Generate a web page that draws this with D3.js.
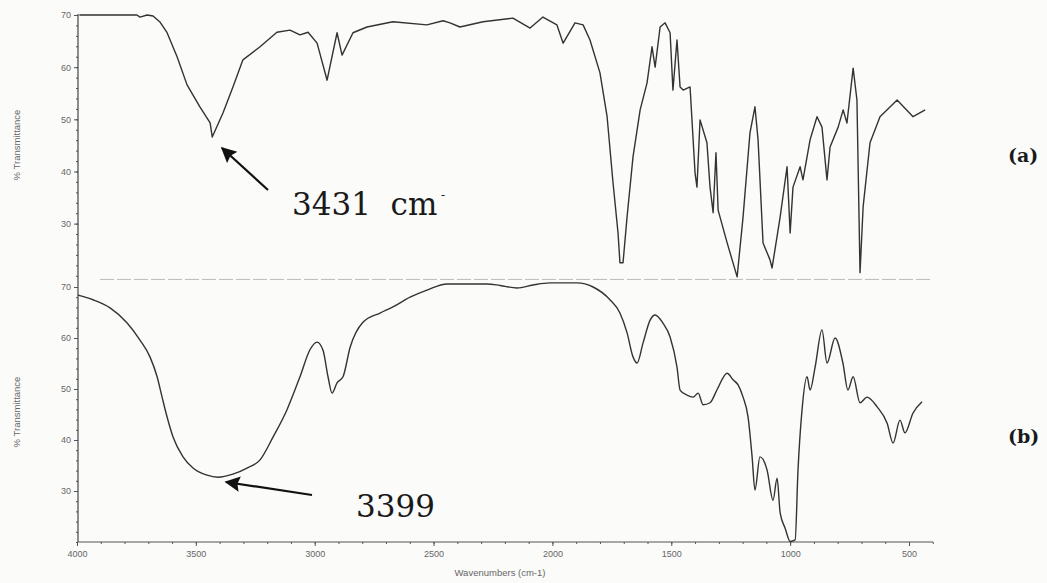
<!DOCTYPE html>
<html>
<head>
<meta charset="utf-8">
<script src="https://cdn.jsdelivr.net/npm/d3@7"></script>
<style>
  html, body { margin: 0; padding: 0; background: #fbfbfa; }
  svg { display: block; }
</style>
</head>
<body>
<svg id="chart" width="1047" height="583"></svg>
<script>
// ---- data ----
const xTicks = [4000, 3500, 3000, 2500, 2000, 1500, 1000, 500];
const yTicksA = [70, 60, 50, 40, 30];
const yTicksB = [70, 60, 50, 40, 30];

// spectrum (a): wavenumber (cm-1) and %T
const wnA = [3990, 3748, 3735, 3705, 3680, 3650, 3621, 3579, 3537, 3483, 3440, 3431, 3386, 3344, 3302, 3230, 3159, 3104, 3062, 3028, 2990, 2948, 2906, 2885, 2839, 2780, 2671, 2528, 2460, 2431, 2389, 2292, 2166, 2094, 2040, 1981, 1955, 1905, 1871, 1842, 1800, 1770, 1745, 1724, 1716, 1703, 1686, 1661, 1631, 1602, 1581, 1568, 1547, 1526, 1505, 1493, 1476, 1463, 1450, 1421, 1400, 1392, 1379, 1350, 1337, 1324, 1312, 1303, 1265, 1223, 1198, 1169, 1148, 1135, 1114, 1085, 1076, 1042, 1013, 1000, 988, 958, 946, 916, 887, 866, 845, 832, 798, 777, 761, 735, 719, 706, 693, 664, 622, 550, 483, 432];
const tA  = [70.0, 70.0, 69.6, 70.0, 69.8, 68.6, 66.6, 62.0, 56.6, 52.4, 49.3, 46.6, 51.2, 56.2, 61.4, 63.9, 66.7, 67.1, 66.2, 66.7, 64.6, 57.5, 66.6, 62.3, 66.6, 67.7, 68.7, 68.1, 68.9, 68.5, 67.7, 68.7, 69.4, 67.5, 69.6, 68.1, 64.6, 68.5, 68.1, 65.2, 58.9, 50.5, 37.8, 28.2, 22.5, 22.5, 31.3, 42.8, 51.8, 57.0, 63.9, 60.0, 67.7, 68.5, 66.6, 55.6, 65.2, 56.2, 55.6, 56.2, 39.7, 37.0, 49.9, 45.5, 37.0, 32.1, 43.6, 32.6, 26.3, 19.8, 31.3, 47.4, 52.4, 46.1, 26.3, 23.1, 21.5, 31.3, 40.9, 28.2, 37.0, 40.9, 38.4, 46.1, 50.5, 48.5, 38.4, 44.7, 48.5, 51.8, 49.3, 59.8, 53.7, 20.6, 33.2, 45.5, 50.5, 53.7, 50.5, 51.8];

// spectrum (b)
const wnB = [3996, 3933, 3861, 3790, 3735, 3693, 3663, 3642, 3621, 3596, 3554, 3512, 3453, 3407, 3344, 3285, 3230, 3175, 3117, 3062, 3020, 2990, 2965, 2944, 2927, 2906, 2881, 2851, 2797, 2725, 2671, 2599, 2528, 2443, 2275, 2220, 2149, 2082, 2010, 1897, 1829, 1758, 1716, 1686, 1661, 1644, 1619, 1589, 1568, 1535, 1505, 1476, 1463, 1434, 1408, 1387, 1366, 1337, 1308, 1265, 1240, 1219, 1198, 1177, 1160, 1148, 1127, 1097, 1072, 1055, 1042, 1021, 1000, 979, 967, 950, 929, 916, 895, 866, 845, 811, 778, 757, 735, 706, 677, 634, 592, 567, 538, 517, 483, 445];
const tB  = [68.4, 67.5, 65.9, 63.0, 59.6, 56.3, 52.4, 48.4, 44.5, 40.6, 36.7, 34.5, 33.1, 32.7, 33.3, 34.5, 36.1, 40.6, 45.9, 52.4, 57.7, 59.2, 57.6, 52.4, 49.2, 51.2, 52.4, 58.2, 63.1, 64.9, 66.1, 68.0, 69.4, 70.6, 70.6, 70.3, 69.8, 70.4, 70.8, 70.8, 70.0, 67.5, 64.9, 61.0, 56.3, 55.1, 59.0, 63.5, 64.5, 62.9, 60.2, 54.3, 49.8, 48.8, 48.4, 49.2, 46.9, 47.3, 49.8, 53.1, 51.8, 50.8, 48.4, 44.5, 36.7, 30.2, 36.7, 34.1, 28.2, 32.5, 25.7, 22.7, 20.1, 20.4, 34.0, 45.9, 52.4, 49.8, 54.3, 61.6, 55.1, 60.0, 55.1, 49.8, 52.4, 47.3, 48.4, 46.5, 43.3, 39.4, 43.9, 41.4, 45.3, 47.5];

const labelA = "3431  cm";
const labelB = "3399";
const panelNames = ["(a)", "(b)"];

// ---- drawing ----
const svg = d3.select("#chart");
const ink = "#333";
const axisInk = "#555";

const x = d3.scaleLinear().domain([4000, 500]).range([77, 909]);
const yA = d3.scaleLinear().domain([19, 70]).range([281, 15]);
const yB = d3.scaleLinear().domain([20, 70]).range([542, 287]);

function yAxis(scale, majors, lo, hi) {
  const g = svg.append("g").attr("transform", "translate(78,0)");
  const minors = d3.range(Math.ceil(lo / 2) * 2, hi + 0.01, 2);
  g.call(d3.axisLeft(scale).tickValues(minors).tickSize(2).tickFormat(""));
  const g2 = svg.append("g").attr("transform", "translate(78,0)");
  g2.call(d3.axisLeft(scale).tickValues(majors).tickSize(4).tickPadding(3).tickFormat(d3.format("d")));
  [g, g2].forEach(gg => {
    gg.select(".domain").remove();
    gg.selectAll("line").attr("stroke", axisInk).attr("stroke-width", 1);
    gg.selectAll("text").attr("fill", "#666").style("font-family", "Arial, 'Liberation Sans', sans-serif").style("font-size", "9px");
  });
}
yAxis(yA, yTicksA, 20, 70);
yAxis(yB, yTicksB, 20, 70);

// shared vertical axis line
svg.append("line").attr("x1", 78).attr("x2", 78).attr("y1", 14).attr("y2", 542)
  .attr("stroke", "#444").attr("stroke-width", 1.2);

// top panel faint baseline
svg.append("line").attr("x1", 100).attr("x2", 933).attr("y1", yA(19.3)).attr("y2", yA(19.3))
  .attr("stroke", "#bbb").attr("stroke-width", 1).attr("stroke-dasharray", "14,3");

// bottom x axis
const gx = svg.append("g").attr("transform", "translate(0,542)");
gx.call(d3.axisBottom(x).tickValues(d3.range(4000, 399, -100)).tickSize(2).tickFormat(""));
const gx2 = svg.append("g").attr("transform", "translate(0,542)");
gx2.call(d3.axisBottom(x).tickValues(xTicks).tickSize(4).tickPadding(5).tickFormat(d3.format("d")));
[gx, gx2].forEach(gg => {
  gg.select(".domain").remove();
  gg.selectAll("line").attr("stroke", axisInk);
  gg.selectAll("text").attr("fill", "#666").style("font-family", "Arial, 'Liberation Sans', sans-serif").style("font-size", "9px");
});
svg.append("line").attr("x1", 78).attr("x2", 933).attr("y1", 542).attr("y2", 542)
  .attr("stroke", "#555").attr("stroke-width", 1.1);

// axis titles
svg.append("text").attr("x", 500).attr("y", 576).attr("text-anchor", "middle")
  .attr("fill", "#666").style("font-family", "Arial, 'Liberation Sans', sans-serif").style("font-size", "9.5px")
  .text("Wavenumbers (cm-1)");
[[145], [412]].forEach(([cy]) => {
  svg.append("text").attr("transform", `translate(20,${cy}) rotate(-90)`).attr("text-anchor", "middle")
    .attr("fill", "#666").style("font-family", "Arial, 'Liberation Sans', sans-serif").style("font-size", "9.5px")
    .text("% Transmittance");
});

// spectra
svg.append("path").datum(d3.zip(wnA, tA))
  .attr("d", d3.line().x(d => x(d[0])).y(d => yA(d[1])).curve(d3.curveLinear))
  .attr("fill", "none").attr("stroke", ink).attr("stroke-width", 1.4).attr("stroke-linejoin", "round");
svg.append("path").datum(d3.zip(wnB, tB))
  .attr("d", d3.line().x(d => x(d[0])).y(d => yB(d[1])).curve(d3.curveMonotoneX))
  .attr("fill", "none").attr("stroke", ink).attr("stroke-width", 1.4).attr("stroke-linejoin", "round");

// arrows
const defs = svg.append("defs");
defs.append("marker").attr("id", "ah").attr("viewBox", "0 0 10 10").attr("refX", 9).attr("refY", 5)
  .attr("markerWidth", 8).attr("markerHeight", 7).attr("markerUnits", "strokeWidth").attr("orient", "auto")
  .append("path").attr("d", "M0,0 L10,5 L0,10 L1.5,5 Z").attr("fill", "#111");

svg.append("line").attr("x1", 268).attr("y1", 190).attr("x2", 222).attr("y2", 148)
  .attr("stroke", "#111").attr("stroke-width", 2.2).attr("marker-end", "url(#ah)");
svg.append("line").attr("x1", 312).attr("y1", 495).attr("x2", 226).attr("y2", 482)
  .attr("stroke", "#111").attr("stroke-width", 2.2).attr("marker-end", "url(#ah)");

const serif = "'DejaVu Serif', 'Liberation Serif', serif";
svg.append("text").attr("x", 292).attr("y", 215).attr("fill", "#1a1a1a")
  .style("font-family", serif).style("font-size", "31px").style("white-space", "pre")
  .attr("xml:space", "preserve").text(labelA);
svg.append("text").attr("x", 441).attr("y", 199).attr("fill", "#1a1a1a")
  .style("font-family", serif).style("font-size", "12px").text("-");
svg.append("text").attr("x", 356).attr("y", 517).attr("fill", "#1a1a1a")
  .style("font-family", serif).style("font-size", "31px").text(labelB);

// panel labels
[[1008, 162, panelNames[0]], [1008, 443, panelNames[1]]].forEach(([px, py, t]) => {
  svg.append("text").attr("x", px).attr("y", py).attr("fill", "#1a1a1a")
    .style("font-family", serif).style("font-size", "19px").style("font-weight", "bold").text(t);
});
</script>
</body>
</html>
